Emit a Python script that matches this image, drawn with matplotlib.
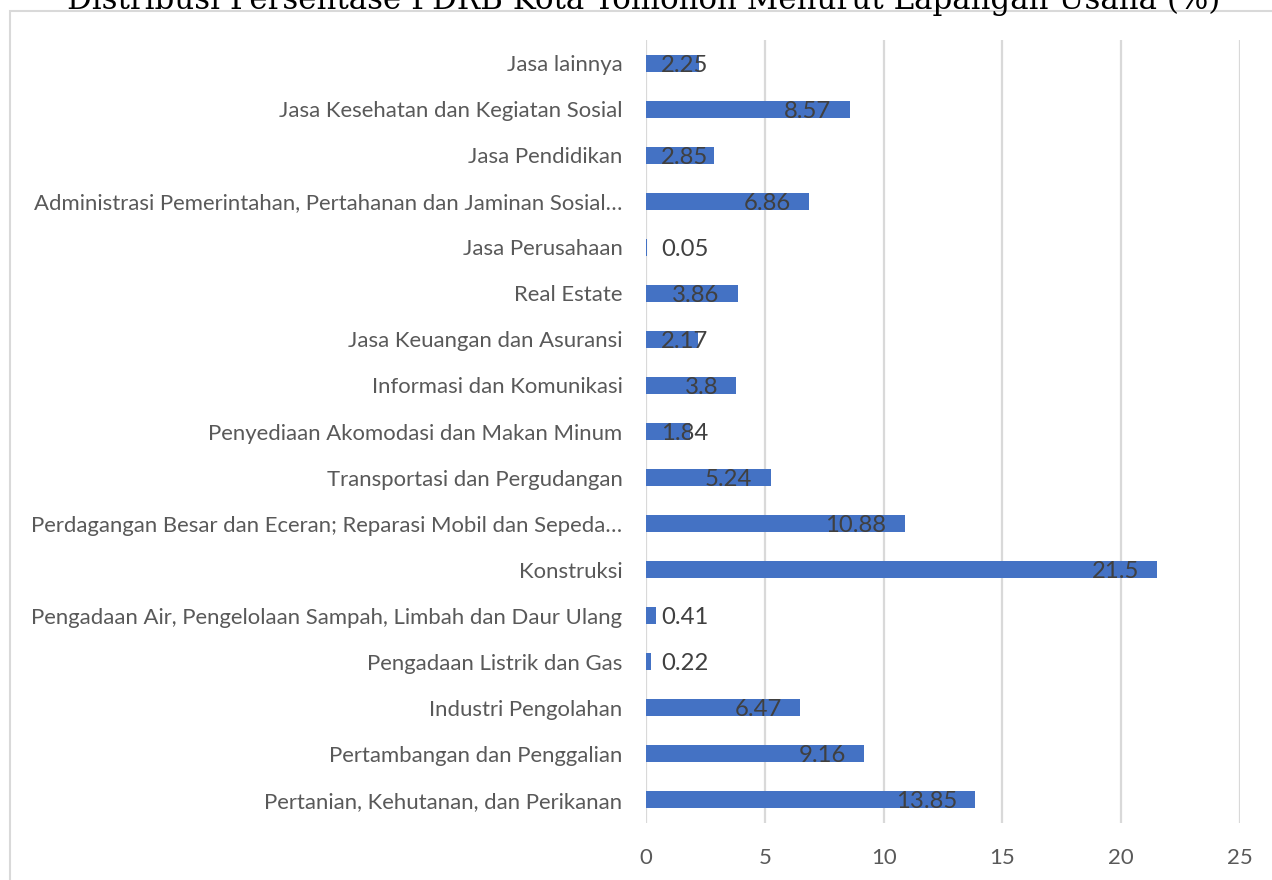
import matplotlib
matplotlib.use("Agg")
import matplotlib.pyplot as plt
from matplotlib.patches import Rectangle

# ---- data (bottom to top) ----
categories = [
    "Pertanian, Kehutanan, dan Perikanan",
    "Pertambangan dan Penggalian",
    "Industri Pengolahan",
    "Pengadaan Listrik dan Gas",
    "Pengadaan Air, Pengelolaan Sampah, Limbah dan Daur Ulang",
    "Konstruksi",
    "Perdagangan Besar dan Eceran; Reparasi Mobil dan Sepeda…",
    "Transportasi dan Pergudangan",
    "Penyediaan Akomodasi dan Makan Minum",
    "Informasi dan Komunikasi",
    "Jasa Keuangan dan Asuransi",
    "Real Estate",
    "Jasa Perusahaan",
    "Administrasi Pemerintahan, Pertahanan dan Jaminan Sosial…",
    "Jasa Pendidikan",
    "Jasa Kesehatan dan Kegiatan Sosial",
    "Jasa lainnya",
]
values = [13.85, 9.16, 6.47, 0.22, 0.41, 21.5, 10.88, 5.24, 1.84, 3.8,
          2.17, 3.86, 0.05, 6.86, 2.85, 8.57, 2.25]
value_labels = ["13.85", "9.16", "6.47", "0.22", "0.41", "21.5", "10.88", "5.24",
                "1.84", "3.8", "2.17", "3.86", "0.05", "6.86", "2.85", "8.57", "2.25"]
xticks = [0, 5, 10, 15, 20, 25]
title = "Distribusi Persentase PDRB Kota Tomohon Menurut Lapangan Usaha (%)"

W, H = 1272, 880
fig = plt.figure(figsize=(W / 100, H / 100), dpi=100)
fig.patch.set_facecolor("white")

# outer chart border (cropped at right / bottom)
fig.add_artist(Rectangle((10 / W, -0.05), 1.2, 1 - 11 / H + 0.05,
                         transform=fig.transFigure, fill=False,
                         edgecolor="#d9d9d9", linewidth=1.5))

ax = fig.add_axes([646 / W, 1 - 823 / H, (1240 - 646) / W, (823 - 40) / H])
ypos = list(range(len(categories)))
ax.barh(ypos, values, height=0.37, color="#4472C4", zorder=3)
ax.set_xlim(0, 25)
ax.set_ylim(-0.5, len(categories) - 0.5)
ax.set_xticks(xticks)
ax.set_xticklabels([str(t) for t in xticks])
ax.set_yticks(ypos)
ax.set_yticklabels(categories)
for s in ax.spines.values():
    s.set_visible(False)
ax.grid(axis="x", color="#d9d9d9", linewidth=1.6, zorder=0)
ax.set_axisbelow(True)
ax.tick_params(axis="both", length=0, colors="#595959")
ax.tick_params(axis="y", pad=17)
ax.tick_params(axis="x", pad=18)

font = "Lato"
for lab in ax.get_yticklabels():
    lab.set_fontfamily(font)
    lab.set_color("#595959")
for lab in ax.get_xticklabels():
    lab.set_fontfamily(font)
    lab.set_color("#595959")

# fit label font size to the longest label width (~594 px)
fig.canvas.draw()
renderer = fig.canvas.get_renderer()
longest = ax.get_yticklabels()[4]
fs0 = 14
for lab in ax.get_yticklabels() + ax.get_xticklabels():
    lab.set_fontsize(fs0)
fig.canvas.draw()
w = longest.get_window_extent(renderer).width
fs = fs0 * 594 / w
for lab in ax.get_yticklabels() + ax.get_xticklabels():
    lab.set_fontsize(fs)

# value labels
texts = []
for yi, v, s in zip(ypos, values, value_labels):
    t = ax.text(v, yi, s, ha="left", va="center_baseline", fontsize=fs * 1.08,
                fontfamily=font, color="#404040", zorder=4)
    texts.append((t, v, yi))
fig.canvas.draw()
for t, v, yi in texts:
    tw = t.get_window_extent(renderer).width
    x_end = ax.transData.transform((v, yi))[0]
    x0 = ax.transData.transform((0, yi))[0]
    left = max(x0 + 15, x_end - 18 - tw)
    xd = ax.transData.inverted().transform((left, 0))[0]
    t.set_x(xd)

# title (cropped at top, as in the reference)
tt = fig.text(644 / W, 1 - 9 / H, title, ha="center", va="baseline",
              fontfamily="DejaVu Serif", fontsize=20, color="#000000")
fig.canvas.draw()
tw = tt.get_window_extent(renderer).width
tt.set_fontsize(20 * 1150 / tw)

fig.savefig("out.png", dpi=100, facecolor="white")
